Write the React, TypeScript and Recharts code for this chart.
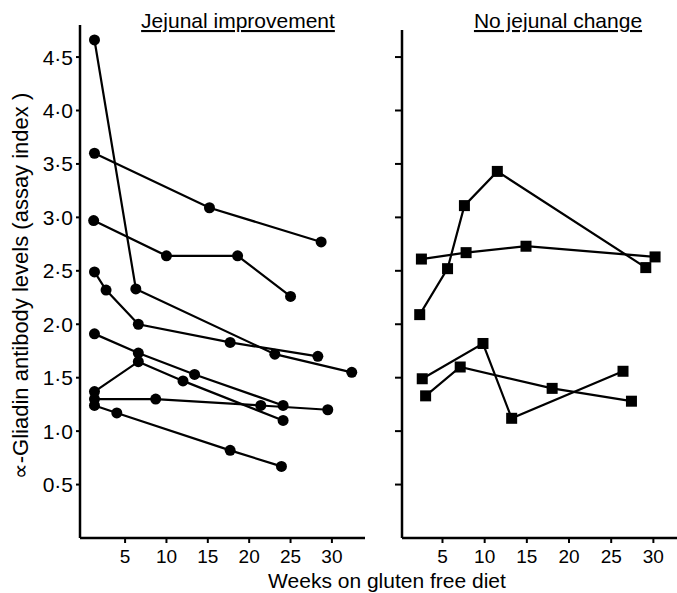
import React from "react";
import { LineChart, Line, XAxis, YAxis } from "recharts";

// ---- Data (weeks on gluten free diet, antibody level) ----
const improvedA = [{ week: 1.3, level: 4.66 }, { week: 6.3, level: 2.33 }, { week: 23.1, level: 1.72 }, { week: 32.4, level: 1.55 }];
const improvedB = [{ week: 1.3, level: 3.6 }, { week: 15.2, level: 3.09 }, { week: 28.7, level: 2.77 }];
const improvedC = [{ week: 1.2, level: 2.97 }, { week: 10.0, level: 2.64 }, { week: 18.6, level: 2.64 }, { week: 25.0, level: 2.26 }];
const improvedD = [{ week: 1.3, level: 2.49 }, { week: 2.7, level: 2.32 }, { week: 6.6, level: 2.0 }, { week: 17.7, level: 1.83 }, { week: 28.3, level: 1.7 }];
const improvedE = [{ week: 1.3, level: 1.91 }, { week: 6.6, level: 1.73 }, { week: 13.4, level: 1.53 }, { week: 24.1, level: 1.24 }];
const improvedF = [{ week: 1.3, level: 1.37 }, { week: 6.6, level: 1.65 }, { week: 12.0, level: 1.47 }, { week: 24.1, level: 1.1 }];
const improvedG = [{ week: 1.3, level: 1.3 }, { week: 8.7, level: 1.3 }, { week: 21.4, level: 1.24 }, { week: 29.5, level: 1.2 }];
const improvedH = [{ week: 1.3, level: 1.24 }, { week: 4.0, level: 1.17 }, { week: 17.7, level: 0.82 }, { week: 23.9, level: 0.67 }];

const noChangeP = [{ week: 2.5, level: 2.61 }, { week: 7.8, level: 2.67 }, { week: 14.9, level: 2.73 }, { week: 30.2, level: 2.63 }];
const noChangeQ = [{ week: 2.3, level: 2.09 }, { week: 5.6, level: 2.52 }, { week: 7.6, level: 3.11 }, { week: 11.5, level: 3.43 }, { week: 29.1, level: 2.53 }];
const noChangeR = [{ week: 2.6, level: 1.49 }, { week: 9.8, level: 1.82 }, { week: 13.2, level: 1.12 }, { week: 26.4, level: 1.56 }];
const noChangeS = [{ week: 3.0, level: 1.33 }, { week: 7.1, level: 1.6 }, { week: 18.0, level: 1.4 }, { week: 27.4, level: 1.28 }];

const improvedSeries = [improvedA, improvedB, improvedC, improvedD, improvedE, improvedF, improvedG, improvedH];
const noChangeSeries = [noChangeP, noChangeQ, noChangeR, noChangeS];

const yTicks = [0.5, 1.0, 1.5, 2.0, 2.5, 3.0, 3.5, 4.0, 4.5];
const xTicks = [5, 10, 15, 20, 25, 30];

const titleLeft = "Jejunal improvement";
const titleRight = "No jejunal change";
const xLabel = "Weeks on gluten free diet";
const yLabel = "\u221D-Gliadin antibody levels  (assay index )";

const FONT = "'Liberation Sans', Arial, sans-serif";

const SquareDot = (props: any) => {
  const { cx, cy } = props;
  if (cx == null || cy == null) return null;
  return <rect x={cx - 5.5} y={cy - 5.5} width={11} height={11} fill="#000" />;
};

const fmt = (v: number) => v.toFixed(1).replace(".", "\u00B7");

export default function App() {
  return (
    <div style={{ position: "absolute", left: 0, top: 0, width: 677, height: 593, background: "#fff", fontFamily: FONT }}>
      <div style={{ position: "absolute", left: 0, top: 0 }}>
        <LineChart width={365} height={593} margin={{ top: 25, right: 0, bottom: 25, left: 0 }}>
          <XAxis
            type="number"
            dataKey="week"
            domain={[-0.45, 34]}
            ticks={xTicks}
            allowDataOverflow
            height={30}
            tickSize={5}
            tickMargin={7}
            axisLine={{ stroke: "#000", strokeWidth: 2.5 }}
            tickLine={{ stroke: "#000", strokeWidth: 2 }}
            tick={{ fill: "#000", fontSize: 19, fontFamily: FONT }}
          />
          <YAxis
            type="number"
            dataKey="level"
            domain={[0, 4.8]}
            ticks={yTicks}
            allowDataOverflow
            width={80}
            tickSize={4}
            tickMargin={3}
            tickFormatter={fmt}
            axisLine={{ stroke: "#000", strokeWidth: 2.5 }}
            tickLine={{ stroke: "#000", strokeWidth: 2 }}
            tick={{ fill: "#000", fontSize: 21, fontFamily: FONT }}
          />
          {improvedSeries.map((s, i) => (
            <Line
              key={i}
              data={s}
              dataKey="level"
              type="linear"
              stroke="#000"
              strokeWidth={2.2}
              dot={{ r: 5.5, fill: "#000", stroke: "#000", strokeWidth: 0 }}
              activeDot={false}
              isAnimationActive={false}
            />
          ))}
        </LineChart>
      </div>
      <div style={{ position: "absolute", left: 362, top: 0 }}>
        <LineChart width={315} height={593} margin={{ top: 30, right: 0, bottom: 25, left: 0 }}>
          <XAxis
            type="number"
            dataKey="week"
            domain={[0.2, 32.8]}
            ticks={xTicks}
            allowDataOverflow
            height={30}
            tickSize={5}
            tickMargin={7}
            axisLine={{ stroke: "#000", strokeWidth: 2.5 }}
            tickLine={{ stroke: "#000", strokeWidth: 2 }}
            tick={{ fill: "#000", fontSize: 19, fontFamily: FONT }}
          />
          <YAxis
            type="number"
            dataKey="level"
            domain={[0, 4.8 - 5 / 106.7]}
            ticks={yTicks}
            allowDataOverflow
            width={40}
            tickSize={7}
            tickFormatter={() => ""}
            axisLine={{ stroke: "#000", strokeWidth: 2.5 }}
            tickLine={{ stroke: "#000", strokeWidth: 2 }}
          />
          {noChangeSeries.map((s, i) => (
            <Line
              key={i}
              data={s}
              dataKey="level"
              type="linear"
              stroke="#000"
              strokeWidth={2.2}
              dot={<SquareDot />}
              activeDot={false}
              isAnimationActive={false}
            />
          ))}
        </LineChart>
      </div>
      <svg width={677} height={593} style={{ position: "absolute", left: 0, top: 0, pointerEvents: "none" }}>
        <text x={238} y={28} textAnchor="middle" fontSize={21} fontFamily={FONT} fill="#000" textDecoration="underline">
          {titleLeft}
        </text>
        <text x={558} y={28} textAnchor="middle" fontSize={21} fontFamily={FONT} fill="#000" textDecoration="underline">
          {titleRight}
        </text>
        <text x={387} y={588} textAnchor="middle" fontSize={21} fontFamily={FONT} fill="#000">
          {xLabel}
        </text>
        <text x={28} y={286} textAnchor="middle" fontSize={22} fontFamily={FONT} fill="#000" transform="rotate(-90, 28, 286)">
          {yLabel}
        </text>
      </svg>
    </div>
  );
}
